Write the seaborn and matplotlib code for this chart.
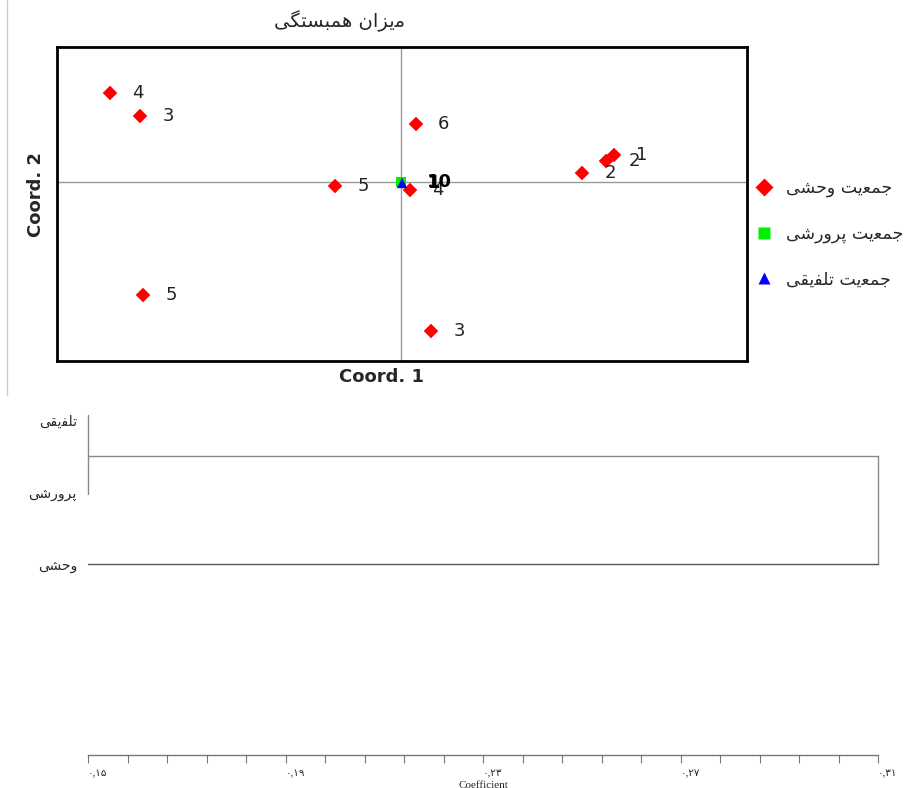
import numpy as np
import pandas as pd
import matplotlib
matplotlib.use("Agg")
import matplotlib.pyplot as plt
import seaborn as sns
from matplotlib.lines import Line2D
from matplotlib.ticker import MultipleLocator

# ==========================
# DATA
# ==========================

# Persian words written in visual order with presentation forms
JAM = "\uFE96\uFBFE\uFECC\uFEE4\uFE9F"            # جمعیت
WAHSHI = "\uFBFD\uFEB8\uFEA3\uFEED"              # وحشی
PARVARESHI = "\uFBFD\uFEB7\uFEAD\uFEED\uFEAE\uFB58"  # پرورشی
TALFIGHI = "\uFBFD\uFED8\uFBFE\uFED4\uFEE0\uFE97"    # تلفیقی
TITLE = "\uFBFD\uFB95\uFE98\uFEB4\uFE92\uFEE4\uFEEB \uFEE5\uFE8D\uFEB0\uFBFE\uFEE3"  # میزان همبستگی

groups = [WAHSHI + " " + JAM, PARVARESHI + " " + JAM, TALFIGHI + " " + JAM]

wild_x = [-0.291, -0.261, 0.015, 0.213, 0.205, 0.181, -0.066, 0.009, -0.258, 0.030]
wild_y = [0.089, 0.066, 0.058, 0.027, 0.021, 0.009, -0.004, -0.008, -0.113, -0.149]
wild_lab = ["4", "3", "6", "1", "2", "2", "5", "4", "5", "3"]

farm_x = [0.0]
farm_y = [0.0]
farm_lab = ["10"]

hyb_x = [0.001]
hyb_y = [-0.001]
hyb_lab = ["1"]

# dendrogram
leaves = [TALFIGHI, PARVARESHI, WAHSHI]
merge_heights = [0.15, 0.31]
coef_ticks = [0.15, 0.19, 0.23, 0.27, 0.31]

df = pd.DataFrame({
    "x": wild_x + farm_x + hyb_x,
    "y": wild_y + farm_y + hyb_y,
    "label": wild_lab + farm_lab + hyb_lab,
    "group": [groups[0]] * len(wild_x) + [groups[1]] * len(farm_x) + [groups[2]] * len(hyb_x),
})

sns.set_style("white")
plt.rcParams["font.family"] = ["DejaVu Sans"]

fig = plt.figure(figsize=(9.09, 7.88), dpi=100)

# ==========================
# SCATTER (PCoA)
# ==========================

ax = fig.add_axes([57 / 909, 1 - 361 / 788, 690 / 909, 314 / 788])
ax.axhline(0, color="#999999", lw=1, zorder=0)
ax.axvline(0, color="#999999", lw=1, zorder=0)

sns.scatterplot(data=df, x="x", y="y", hue="group", style="group",
                palette=["#ff0000", "#00ee00", "#0000ff"],
                markers=["D", "s", "^"], s=55, edgecolor="none",
                ax=ax, zorder=3)

for _, r in df.iterrows():
    if r["group"] == groups[0]:
        ax.annotate(r["label"], (r["x"], r["y"]), xytext=(16, 0),
                    textcoords="offset points", va="center", ha="left",
                    fontsize=13, color="#222222")
    else:
        ax.annotate(r["label"], (r["x"], r["y"]), xytext=(19, 0),
                    textcoords="offset points", va="center", ha="left",
                    fontsize=13, color="black", fontweight="bold")

ax.set_xlim(-0.344, 0.346)
ax.set_ylim(-0.179, 0.135)
ax.set_xticks([])
ax.set_yticks([])
for sp in ax.spines.values():
    sp.set_visible(True)
    sp.set_color("black")
    sp.set_linewidth(2)
ax.set_xlabel("Coord. 1", fontsize=13, fontweight="bold")
ax.xaxis.set_label_coords(0.471, -0.022)
ax.set_ylabel("Coord. 2", fontsize=13, fontweight="bold")
ax.yaxis.set_label_coords(-0.018, 0.53)
ax.set_title(TITLE, fontsize=14, pad=14, x=0.41)

sns.move_legend(ax, "upper left", bbox_to_anchor=(0.989, 0.602),
                title=None, frameon=False, fontsize=12.5, labelspacing=1.58,
                handletextpad=0.3, markerscale=1.2, borderaxespad=0)

fig.add_artist(Line2D([7 / 909, 7 / 909], [1, 1 - 395 / 788],
                      color="#cccccc", lw=1))

# ==========================
# DENDROGRAM
# ==========================

ax2 = fig.add_axes([88 / 909, 1 - 755 / 788, 790 / 909, 350 / 788])
pos = np.arange(len(leaves))
mid = (pos[0] + pos[1]) / 2
line_c = "#888888"
# first cluster (تلفیقی + پرورشی)
ax2.plot([merge_heights[0], merge_heights[0]], [pos[0] - 0.07, pos[1] + 0.03],
         color=line_c, lw=1, clip_on=False)
ax2.plot([merge_heights[0], merge_heights[1]], [mid, mid], color=line_c, lw=1, clip_on=False)
# join with وحشی
ax2.plot([merge_heights[1], merge_heights[1]], [mid, pos[2]], color=line_c, lw=1, clip_on=False)
ax2.plot([merge_heights[0], merge_heights[1]], [pos[2], pos[2]], color="#555555", lw=1, clip_on=False)

ax2.set_xlim(merge_heights[0], merge_heights[1])
ax2.set_ylim(4.65, -0.21)
ax2.set_yticks(pos)
ax2.set_yticklabels(leaves, fontsize=10)
ax2.tick_params(axis="y", length=0, pad=8)

persian = str.maketrans("0123456789", "\u06F0\u06F1\u06F2\u06F3\u06F4\u06F5\u06F6\u06F7\u06F8\u06F9")
ax2.set_xticks(coef_ticks)
ax2.set_xticklabels([f"{v:.2f}".replace(".", ",").translate(persian) for v in coef_ticks],
                    fontsize=7.5, ha="left", family=["Liberation Serif", "DejaVu Sans"])
ax2.xaxis.set_minor_locator(MultipleLocator(0.008, offset=0.15))
ax2.tick_params(axis="x", which="both", direction="out", length=6, width=0.8,
                color="#777777", bottom=True, pad=4)
ax2.set_xlabel("Coefficient", fontsize=8, family="Liberation Serif", labelpad=2)
for name, sp in ax2.spines.items():
    sp.set_visible(name == "bottom")
ax2.spines["bottom"].set_color("#777777")
ax2.spines["bottom"].set_linewidth(1)

fig.savefig("out.png", dpi=100)
plt.close()
